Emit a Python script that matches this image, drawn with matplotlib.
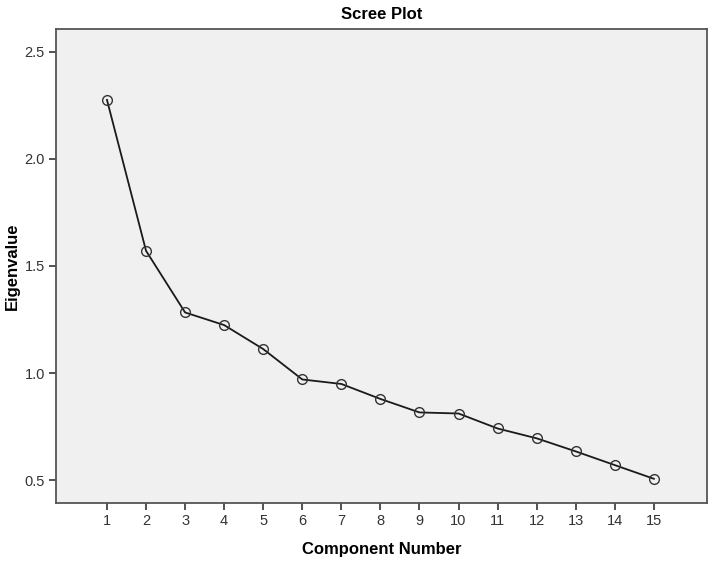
import matplotlib as mpl

mpl.use("Agg")
import matplotlib.pyplot as plt

# scree plot values
components = list(range(1, 16))
eigenvalues = [2.276, 1.571, 1.283, 1.224, 1.112, 0.970, 0.949, 0.879,
               0.816, 0.811, 0.741, 0.695, 0.634, 0.570, 0.506]
y_ticks = [0.5, 1.0, 1.5, 2.0, 2.5]

plt.rcParams["font.family"] = ["Liberation Sans", "DejaVu Sans"]

fig = plt.figure(figsize=(7.15, 5.62), dpi=100)
ax = fig.add_axes([0.0783, 0.105, 0.9105, 0.8434])
ax.set_facecolor("#f0f0f0")

ax.plot(components, eigenvalues, color="#1a1a1a", linewidth=1.3,
        marker="o", markersize=7, markerfacecolor="none",
        markeredgecolor="#333333", markeredgewidth=1.0)

ax.set_xlim(-0.305, 16.36)
ax.set_ylim(0.393, 2.607)
ax.set_xticks(components)
ax.set_yticks(y_ticks)
ax.set_yticklabels([f"{v:.1f}" for v in y_ticks])

for side in ("left", "bottom", "right", "top"):
    ax.spines[side].set_color("#555555")
    ax.spines[side].set_linewidth(1.3)

ax.tick_params(direction="out", length=5, width=1.2, color="#333333",
               labelsize=10.5, labelcolor="#333333", pad=3)

ax.set_title("Scree Plot", fontsize=12, fontweight="bold", pad=7)
ax.set_xlabel("Component Number", fontsize=12, fontweight="bold", labelpad=10)
ax.set_ylabel("Eigenvalue", fontsize=12, fontweight="bold")
ax.yaxis.set_label_coords(-0.056, 0.5)

fig.savefig("out.png", dpi=100)
